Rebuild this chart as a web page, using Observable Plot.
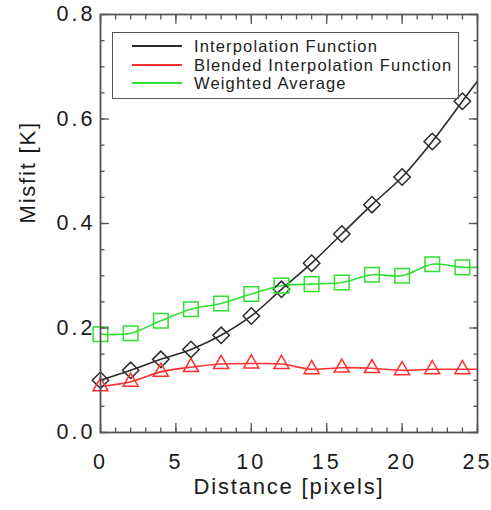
<!DOCTYPE html>
<html><head><meta charset="utf-8">
<script src="https://cdn.jsdelivr.net/npm/d3@7"></script>
<script src="https://cdn.jsdelivr.net/npm/@observablehq/plot@0.6"></script>
<style>
body{margin:0;background:#fff;}
#wrap{position:relative;width:491px;height:510px;}
#legend{position:absolute;left:112px;top:32px;width:347px;height:67px;border:1.6px solid #555;box-sizing:border-box;font-family:"Liberation Sans",Arial,sans-serif;font-size:16.5px;letter-spacing:1.15px;color:#222;}
#legend .row{position:absolute;left:0;height:18px;display:flex;align-items:center;white-space:nowrap;}
#legend .sw{display:inline-block;width:50px;height:1.6px;margin-left:19px;margin-right:12px;}
g[aria-label="x-axis tick label"] text, g[aria-label="y-axis tick label"] text{letter-spacing:3px;}
g[aria-label="text"] text{letter-spacing:1.8px;}
</style>
</head><body>
<div id="wrap"></div>
<script>
// Data
const seriesNames = ["Interpolation Function", "Blended Interpolation Function", "Weighted Average"];
const seriesColors = ["#2b2b2b", "#ff3030", "#30e030"];
const seriesSymbols = ["diamond2", "triangle2", "square2"];
const distance = [0, 2, 4, 6, 8, 10, 12, 14, 16, 18, 20, 22, 24, 25];
const interpolation = [0.100, 0.119, 0.140, 0.159, 0.186, 0.223, 0.274, 0.324, 0.380, 0.436, 0.489, 0.557, 0.634, 0.673];
const blended = [0.088, 0.097, 0.116, 0.125, 0.131, 0.132, 0.131, 0.121, 0.124, 0.123, 0.119, 0.121, 0.121, 0.121];
const weighted = [0.188, 0.190, 0.214, 0.236, 0.247, 0.265, 0.281, 0.284, 0.287, 0.302, 0.300, 0.322, 0.316, 0.316];
const markerDistances = [0, 2, 4, 6, 8, 10, 12, 14, 16, 18, 20, 22, 24];
const xMajorTicks = [0, 5, 10, 15, 20, 25];
const xMinorTicks = d3.range(0, 26, 1);
const yMajorTicks = [0, 0.2, 0.4, 0.6, 0.8];
const yMinorTicks = [0, 0.05, 0.1, 0.15, 0.2, 0.25, 0.3, 0.35, 0.4, 0.45, 0.5, 0.55, 0.6, 0.65, 0.7, 0.75, 0.8];
const xTitle = "Distance [pixels]";
const yTitle = "Misfit [K]";

const values = [interpolation, blended, weighted];
const rows = [];
seriesNames.forEach((s, i) => distance.forEach((x, j) => rows.push({series: s, x, y: values[i][j]})));
const markerRows = rows.filter(d => markerDistances.includes(d.x));

const tickStroke = "#555";
const marks = [];
seriesNames.forEach((s, i) => {
  marks.push(Plot.line(rows.filter(d => d.series === s), {x: "x", y: "y", stroke: seriesColors[i], strokeWidth: 1.6, curve: "catmull-rom", clip: true}));
});
const rByS = {"diamond2": 7.4, "triangle2": 7.2, "square2": 9.3};
seriesNames.forEach((s, i) => {
  marks.push(Plot.dot(markerRows.filter(d => d.series === s), {x: "x", y: "y", symbol: seriesSymbols[i], r: rByS[seriesSymbols[i]], stroke: seriesColors[i], strokeWidth: 1.5, fill: "none"}));
});
for (const anchor of ["bottom", "top"]) {
  marks.push(Plot.axisX({anchor, ticks: xMajorTicks, tickSize: -9, text: null, stroke: tickStroke, strokeWidth: 1.3, label: null}));
  marks.push(Plot.axisX({anchor, ticks: xMinorTicks, tickSize: -4.5, text: null, stroke: tickStroke, strokeWidth: 1.3, label: null}));
}
for (const anchor of ["left", "right"]) {
  marks.push(Plot.axisY({anchor, ticks: yMajorTicks, tickSize: -9, text: null, stroke: tickStroke, strokeWidth: 1.3, label: null}));
  marks.push(Plot.axisY({anchor, ticks: yMinorTicks, tickSize: -4.5, text: null, stroke: tickStroke, strokeWidth: 1.3, label: null}));
}
marks.push(Plot.axisX({anchor: "bottom", ticks: xMajorTicks, tickSize: 0, tickPadding: 21, fontSize: 21.5, label: null, fill: "#1a1a1a"}));
marks.push(Plot.axisY({anchor: "left", ticks: yMajorTicks, tickSize: 0, tickPadding: 5, tickFormat: d3.format(".1f"), fontSize: 21.5, label: null, fill: "#1a1a1a"}));
marks.push(Plot.frame({stroke: "#555", strokeWidth: 1.8}));
marks.push(Plot.text([xTitle], {text: d => d, frameAnchor: "bottom", dy: 61, fontSize: 22, fill: "#1a1a1a"}));
marks.push(Plot.text([yTitle], {text: d => d, frameAnchor: "left", dx: -73, rotate: -90, fontSize: 22, fill: "#1a1a1a"}));

const chart = Plot.plot({
  width: 491, height: 510,
  marginLeft: 100, marginRight: 14, marginTop: 14, marginBottom: 78,
  x: {domain: [0, 25]},
  y: {domain: [0, 0.8]},
  style: {fontFamily: '"Liberation Sans", Arial, sans-serif', background: "#fff", color: "#1a1a1a"},
  marks
});
const wrap = document.getElementById("wrap");
wrap.appendChild(chart);

const legend = document.createElement("div");
legend.id = "legend";
const rowTops = [4, 23, 41];
seriesNames.forEach((s, i) => {
  const r = document.createElement("div");
  r.className = "row";
  r.style.top = rowTops[i] + "px";
  const sw = document.createElement("span");
  sw.className = "sw";
  sw.style.background = seriesColors[i];
  const t = document.createElement("span");
  t.textContent = s;
  r.appendChild(sw); r.appendChild(t);
  legend.appendChild(r);
});
wrap.appendChild(legend);
</script>
</body></html>
